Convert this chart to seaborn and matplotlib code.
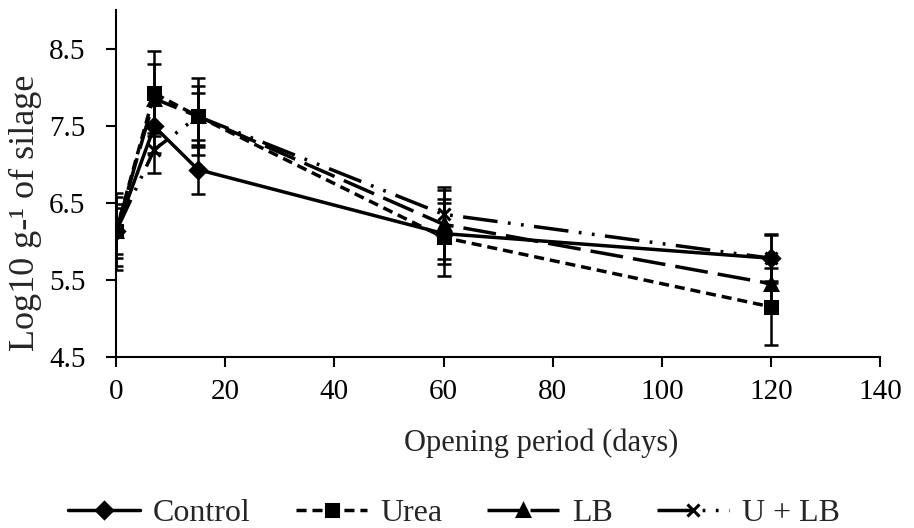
import matplotlib
matplotlib.use("Agg")
import matplotlib.pyplot as plt
import seaborn as sns
import pandas as pd
import numpy as np

days = [0, 7, 15, 60, 120]
series_names = ["Control", "Urea", "LB", "U + LB"]
control = [6.13, 7.49, 6.93, 6.10, 5.78]
urea = [6.13, 7.92, 7.62, 6.05, 5.15]
lb = [6.13, 7.85, 7.62, 6.22, 5.45]
ulb = [6.13, 7.19, 7.62, 6.35, 5.78]
control_err = [0.30, 0.35, 0.32, 0.40, 0.30]
urea_err = [0.45, 0.55, 0.50, 0.50, 0.50]
lb_err = [0.35, 0.45, 0.40, 0.45, 0.35]
ulb_err = [0.50, 0.30, 0.30, 0.35, 0.32]
xticks = [0, 20, 40, 60, 80, 100, 120, 140]
yticks = [4.5, 5.5, 6.5, 7.5, 8.5]

values = [control, urea, lb, ulb]
errors = [control_err, urea_err, lb_err, ulb_err]
rows = []
for name, vals, errs in zip(series_names, values, errors):
    for d, v, e in zip(days, vals, errs):
        rows.append({"day": d, "value": v, "err": e, "series": name})
df = pd.DataFrame(rows)

sns.set_theme(style="white")
plt.rcParams["font.family"] = ["Liberation Serif", "DejaVu Serif"]

fig = plt.figure(figsize=(9.14, 5.28), dpi=100)
ax = fig.add_axes([0.127, 0.324, 0.836, 0.657])

styles = {
    "Control": dict(marker="D", ls="-", ms=8),
    "Urea": dict(marker="s", ls=(0, (2.9, 1.7)), ms=9),
    "LB": dict(marker="^", ls=(0, (9.5, 2.9)), ms=9),
    "U + LB": dict(marker="x", ls=(0, (10, 3, 0.8, 3, 0.8, 3)), ms=9),
}
for name in series_names:
    sub = df[df.series == name]
    st = styles[name]
    ax.errorbar(sub["day"], sub["value"], yerr=sub["err"], fmt="none",
                ecolor="black", elinewidth=1.8, capsize=5, capthick=1.8, zorder=2)
    sns.lineplot(data=sub, x="day", y="value", ax=ax, color="black",
                 linewidth=2.5, linestyle=st["ls"], marker=st["marker"],
                 markersize=st["ms"], markeredgewidth=2.2,
                 markeredgecolor="black", markerfacecolor="black",
                 label=name, zorder=3)

ax.set_xlim(0, 140)
ax.set_ylim(4.5, 9.0)
ax.set_xticks(xticks)
ax.set_yticks(yticks)
ax.set_xticklabels([str(x) for x in xticks], fontsize=21)
ax.set_yticklabels([f"{y:.1f}" for y in yticks], fontsize=21)
ax.set_xlabel("Opening period (days)", fontsize=22)
ax.set_ylabel("Log10 g-¹ of silage", fontsize=26)
ax.xaxis.set_label_coords(0.556, -0.205)
ax.yaxis.set_label_coords(-0.097, 0.415)
for s in ["top", "right"]:
    ax.spines[s].set_visible(False)
for s in ["left", "bottom"]:
    ax.spines[s].set_color("black")
    ax.spines[s].set_linewidth(1.5)
ax.tick_params(axis="both", direction="out", length=7, width=1.5, color="black",
               left=True, bottom=True, labelcolor="black")
ax.tick_params(axis="x", pad=9)
ax.tick_params(axis="y", pad=15)

h, l = ax.get_legend_handles_labels()
ax.get_legend().remove()
fig.legend(h, l, loc="center", bbox_to_anchor=(0.497, 0.028), ncol=4,
           frameon=False, fontsize=23, handlelength=2.25, columnspacing=1.4,
           handletextpad=0.4, borderpad=0.1)

fig.savefig("out.png", dpi=100)
